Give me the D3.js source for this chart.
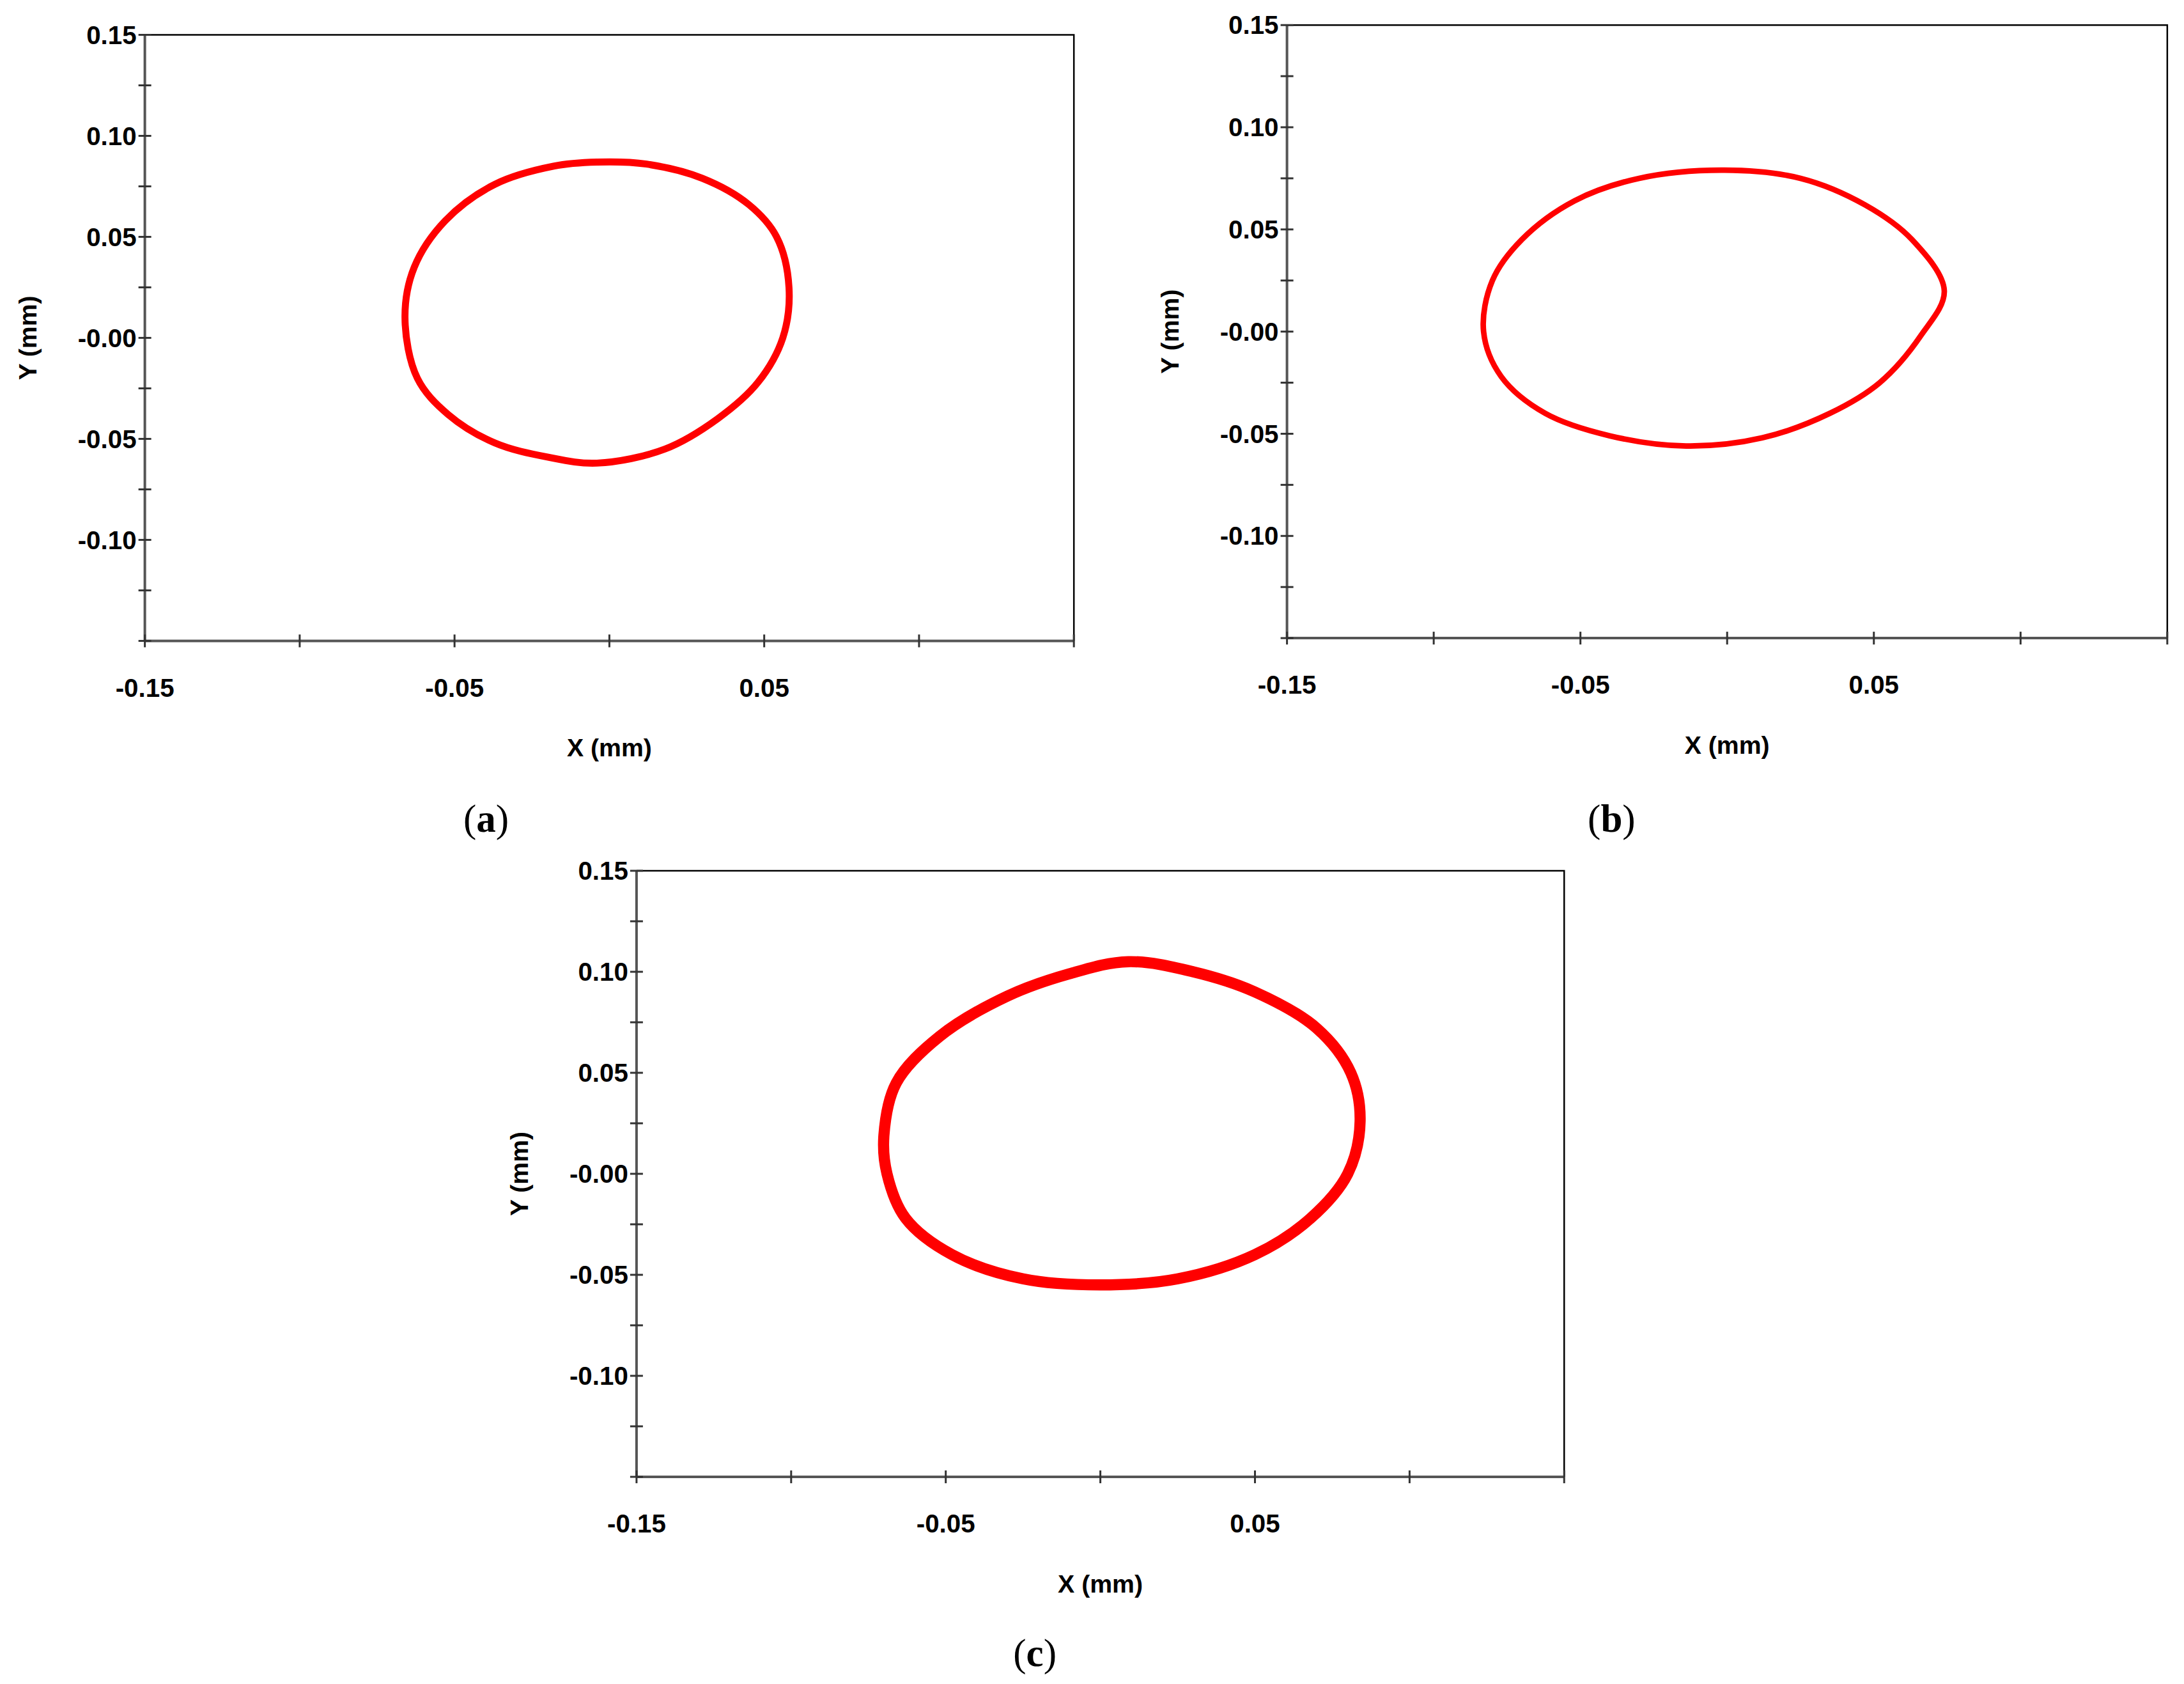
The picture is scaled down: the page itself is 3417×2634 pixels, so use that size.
<!DOCTYPE html>
<html><head><meta charset="utf-8">
<script src="https://cdn.jsdelivr.net/npm/d3@7"></script>
<style>body{margin:0;background:#fff}</style>
</head><body><div id="chart"></div>
<script>
var W = 3417, H = 2634;
var S = W / 1568;

// loop data (mm)
var loopA = [[-0.066,0.010],[-0.063,0.035],[-0.053,0.058],[-0.037,0.076],[-0.018,0.085],[-0.004,0.087],[0.012,0.086],[0.030,0.079],[0.045,0.066],[0.054,0.050],[0.058,0.025],[0.056,0.000],[0.048,-0.022],[0.035,-0.040],[0.018,-0.055],[-0.004,-0.062],[-0.020,-0.059],[-0.037,-0.052],[-0.052,-0.038],[-0.062,-0.020]];
var loopB = [[-0.083,0.000],[-0.080,0.025],[-0.070,0.045],[-0.052,0.064],[-0.030,0.075],[-0.001,0.079],[0.025,0.075],[0.047,0.062],[0.063,0.045],[0.074,0.020],[0.066,-0.002],[0.052,-0.025],[0.035,-0.040],[0.012,-0.052],[-0.014,-0.056],[-0.040,-0.051],[-0.062,-0.040],[-0.077,-0.022]];
var loopC = [[-0.070,0.019],[-0.066,0.045],[-0.052,0.068],[-0.030,0.088],[-0.010,0.099],[0.009,0.105],[0.030,0.100],[0.050,0.090],[0.070,0.072],[0.081,0.050],[0.084,0.026],[0.080,0.000],[0.068,-0.022],[0.050,-0.040],[0.025,-0.052],[0.000,-0.055],[-0.025,-0.052],[-0.048,-0.040],[-0.063,-0.022],[-0.069,0.000]];

var xTicks = [-0.15,-0.10,-0.05,0,0.05,0.10,0.15];
var xLabels = [-0.15,-0.05,0.05];
var yTicks = d3.range(-6,7).map(function(i){ return i*0.025; });
var yLabels = [0.15,0.10,0.05,0,-0.05,-0.10];
var yLabelText = ["0.15","0.10","0.05","-0.00","-0.05","-0.10"];

var panels = [
  {data: loopA, l:104, r:771, t:25, b:460, tag:"a", tx:349, ty:588, sw:5},
  {data: loopB, l:924, r:1556, t:18, b:458, tag:"b", tx:1157, ty:588, sw:4},
  {data: loopC, l:457, r:1123, t:625, b:1060, tag:"c", tx:743, ty:1187, sw:8}
];

var svg = d3.select("#chart").append("svg").attr("width", W).attr("height", H);
var font = "Arial, 'Liberation Sans', sans-serif";

panels.forEach(function(p){
  var x = d3.scaleLinear().domain([-0.15,0.15]).range([p.l*S, p.r*S]);
  var y = d3.scaleLinear().domain([-0.15,0.15]).range([p.b*S, p.t*S]);
  var g = svg.append("g");

  // frame top/right
  g.append("path").attr("d", "M"+x(-0.15)+","+y(0.15)+"H"+x(0.15)+"V"+y(-0.15))
    .attr("fill","none").attr("stroke","#000").attr("stroke-width",2.5);

  // loop
  var line = d3.line().x(function(d){return x(d[0]);}).y(function(d){return y(d[1]);})
    .curve(d3.curveCatmullRomClosed.alpha(0.5));
  g.append("path").datum(p.data).attr("d", line)
    .attr("fill","none").attr("stroke","#ff0000").attr("stroke-width",p.sw*S);

  // axes
  g.append("line").attr("x1",x(-0.15)).attr("x2",x(0.15)).attr("y1",y(-0.15)).attr("y2",y(-0.15))
    .attr("stroke","#555").attr("stroke-width",4);
  g.append("line").attr("x1",x(-0.15)).attr("x2",x(-0.15)).attr("y1",y(-0.15)).attr("y2",y(0.15))
    .attr("stroke","#555").attr("stroke-width",4);
  g.selectAll(".xt").data(xTicks).enter().append("line")
    .attr("x1",function(d){return x(d);}).attr("x2",function(d){return x(d);})
    .attr("y1",y(-0.15)-10).attr("y2",y(-0.15)+10).attr("stroke","#333").attr("stroke-width",3);
  g.selectAll(".yt").data(yTicks).enter().append("line")
    .attr("y1",function(d){return y(d);}).attr("y2",function(d){return y(d);})
    .attr("x1",x(-0.15)-10).attr("x2",x(-0.15)+10).attr("stroke","#333").attr("stroke-width",3);

  g.selectAll(".xl").data(xLabels).enter().append("text")
    .attr("x",function(d){return x(d);}).attr("y",y(-0.15)+40*S)
    .attr("text-anchor","middle").attr("font-family",font).attr("font-weight","bold")
    .attr("font-size",18.5*S).text(function(d){return d.toFixed(2);});
  g.selectAll(".yl").data(yLabels).enter().append("text")
    .attr("x",x(-0.15)-6*S).attr("y",function(d){return y(d)+6.5*S;})
    .attr("text-anchor","end").attr("font-family",font).attr("font-weight","bold")
    .attr("font-size",18.5*S).text(function(d,i){return yLabelText[i];});

  g.append("text").attr("x",(x(-0.15)+x(0.15))/2).attr("y",p.b*S+83*S)
    .attr("text-anchor","middle").attr("font-family",font).attr("font-weight","bold")
    .attr("font-size",18*S).text("X (mm)");
  g.append("text").attr("transform","translate("+(x(-0.15)-78*S)+","+y(0)+") rotate(-90)")
    .attr("text-anchor","middle").attr("font-family",font).attr("font-weight","bold")
    .attr("font-size",18*S).text("Y (mm)");

  var t = g.append("text").attr("x",p.tx*S).attr("y",p.ty*S+9*S).attr("text-anchor","middle")
    .attr("font-family","'Liberation Serif', 'Times New Roman', serif").attr("font-size",28*S);
  t.append("tspan").text("(");
  t.append("tspan").attr("font-weight","bold").text(p.tag);
  t.append("tspan").text(")");
});
</script>
</body></html>
